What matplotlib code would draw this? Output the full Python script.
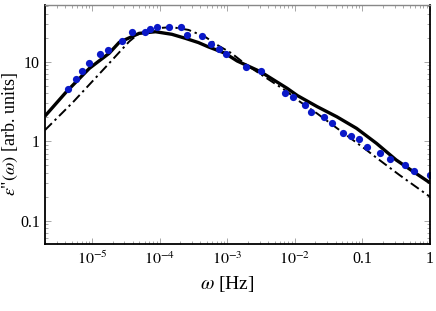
import numpy as np
import matplotlib
matplotlib.use('Agg')
import matplotlib.pyplot as plt
from matplotlib.ticker import FixedLocator, FixedFormatter, LogLocator, NullFormatter

plt.rcParams['font.family'] = ['Liberation Serif', 'DejaVu Serif']
plt.rcParams['mathtext.fontset'] = 'stix'

# measured points (blue dots)
freq_pts = [4.4e-6, 5.7e-6, 7.15e-6, 9.1e-6, 1.32e-5, 1.73e-5, 2.75e-5, 3.93e-5,
            5.97e-5, 7.07e-5, 9.12e-5, 1.35e-4, 2.08e-4, 2.57e-4, 4.16e-4, 5.71e-4,
            7.64e-4, 9.57e-4, 1.92e-3, 3.11e-3, 7.23e-3, 9.25e-3, 1.42e-2, 1.74e-2,
            2.72e-2, 3.56e-2, 5.16e-2, 6.7e-2, 8.86e-2, 0.117, 0.182, 0.255,
            0.424, 0.58, 1.0]
eps_pts = [4.54, 6.06, 7.64, 9.55, 12.4, 14.0, 18.1, 23.8,
           23.8, 26.0, 27.1, 27.6, 27.1, 21.9, 21.0, 16.7,
           14.4, 12.5, 8.5, 7.57, 4.01, 3.57, 2.83, 2.33,
           2.0, 1.68, 1.26, 1.16, 1.06, 0.853, 0.705, 0.597,
           0.502, 0.426, 0.376]

# model curve (solid)
freq_solid = [2.0e-6, 4.16e-6, 9.1e-6, 1.79e-5, 2.51e-5, 4.94e-5, 8.65e-5, 1.51e-4,
              2.38e-4, 3.73e-4, 5.2e-4, 9.2e-4, 1.4e-3, 3.1e-3, 7.7e-3, 1.09e-2,
              2.14e-2, 4.18e-2, 8.2e-2, 0.161, 0.316, 0.62, 1.0]
eps_solid = [2.07, 4.2, 8.26, 12.8, 17.5, 22.7, 23.8, 22.1,
             19.7, 17.4, 15.4, 12.8, 10.2, 7.48, 4.62, 3.75,
             2.72, 2.03, 1.45, 0.942, 0.581, 0.394, 0.30]

# model curve (dash-dot)
freq_dd = [2.0e-6, 5.2e-6, 1.6e-5, 3.52e-5, 4.94e-5, 8.65e-5, 1.51e-4, 2.66e-4,
           4.67e-4, 7.3e-4, 1.15e-3, 1.92e-3, 7.7e-3, 1.09e-2, 2.12e-2, 0.115,
           0.161, 0.353, 1.0]
eps_dd = [1.38, 3.1, 8.65, 17.9, 22.7, 26.3, 27.2, 25.1,
          20.6, 16.0, 12.8, 9.1, 4.2, 3.3, 2.24, 0.774,
          0.62, 0.376, 0.2]

xticks = [1e-5, 1e-4, 1e-3, 1e-2, 0.1, 1]
xtick_labels = [r'$10^{-5}$', r'$10^{-4}$', r'$10^{-3}$', r'$10^{-2}$', '0.1', '1']
yticks = [0.1, 1, 10]
ytick_labels = ['0.1', '1', '10']

fig = plt.figure(figsize=(4.36, 3.11), dpi=100)
ax = fig.add_axes([0.1032, 0.2154, 0.883, 0.7685])

ax.plot(freq_solid, eps_solid, '-', color='black', lw=2.4, solid_capstyle='butt')
ax.plot(freq_dd, eps_dd, color='black', lw=1.4, dashes=[5, 2, 1.2, 2])
ax.plot(freq_pts, eps_pts, 'o', color='#0a18c8', ms=5.2, mec='none')

ax.set_xscale('log')
ax.set_yscale('log')
ax.set_xlim(2.0e-6, 1.0)
ax.set_ylim(0.051, 51.6)

ax.xaxis.set_major_locator(FixedLocator(xticks))
ax.xaxis.set_major_formatter(FixedFormatter(xtick_labels))
ax.yaxis.set_major_locator(FixedLocator(yticks))
ax.yaxis.set_major_formatter(FixedFormatter(ytick_labels))
ax.xaxis.set_minor_locator(LogLocator(base=10, subs=np.arange(2, 10), numticks=20))
ax.yaxis.set_minor_locator(LogLocator(base=10, subs=np.arange(2, 10), numticks=20))
ax.xaxis.set_minor_formatter(NullFormatter())
ax.yaxis.set_minor_formatter(NullFormatter())

ax.tick_params(which='both', direction='in', top=True, right=True, color='#999999', width=0.6)
ax.tick_params(which='major', length=4.5, labelsize=11.5)
ax.tick_params(axis='y', which='major', pad=3.5)
ax.tick_params(axis='x', which='major', pad=5)
ax.tick_params(which='minor', length=2.5)

for side in ['left', 'bottom', 'right']:
    ax.spines[side].set_linewidth(1.3)
    ax.spines[side].set_color('black')
ax.spines['top'].set_linewidth(1.0)
ax.spines['top'].set_color('#888888')

ax.set_xlabel(r'$\omega$ [Hz]', fontsize=14)
ax.set_ylabel(r'$\epsilon$"$(\omega)$ [arb. units]', fontsize=13)
ax.xaxis.set_label_coords(0.474, -0.125)
ax.yaxis.set_label_coords(-0.066, 0.46)

fig.savefig('out.png', dpi=100)
